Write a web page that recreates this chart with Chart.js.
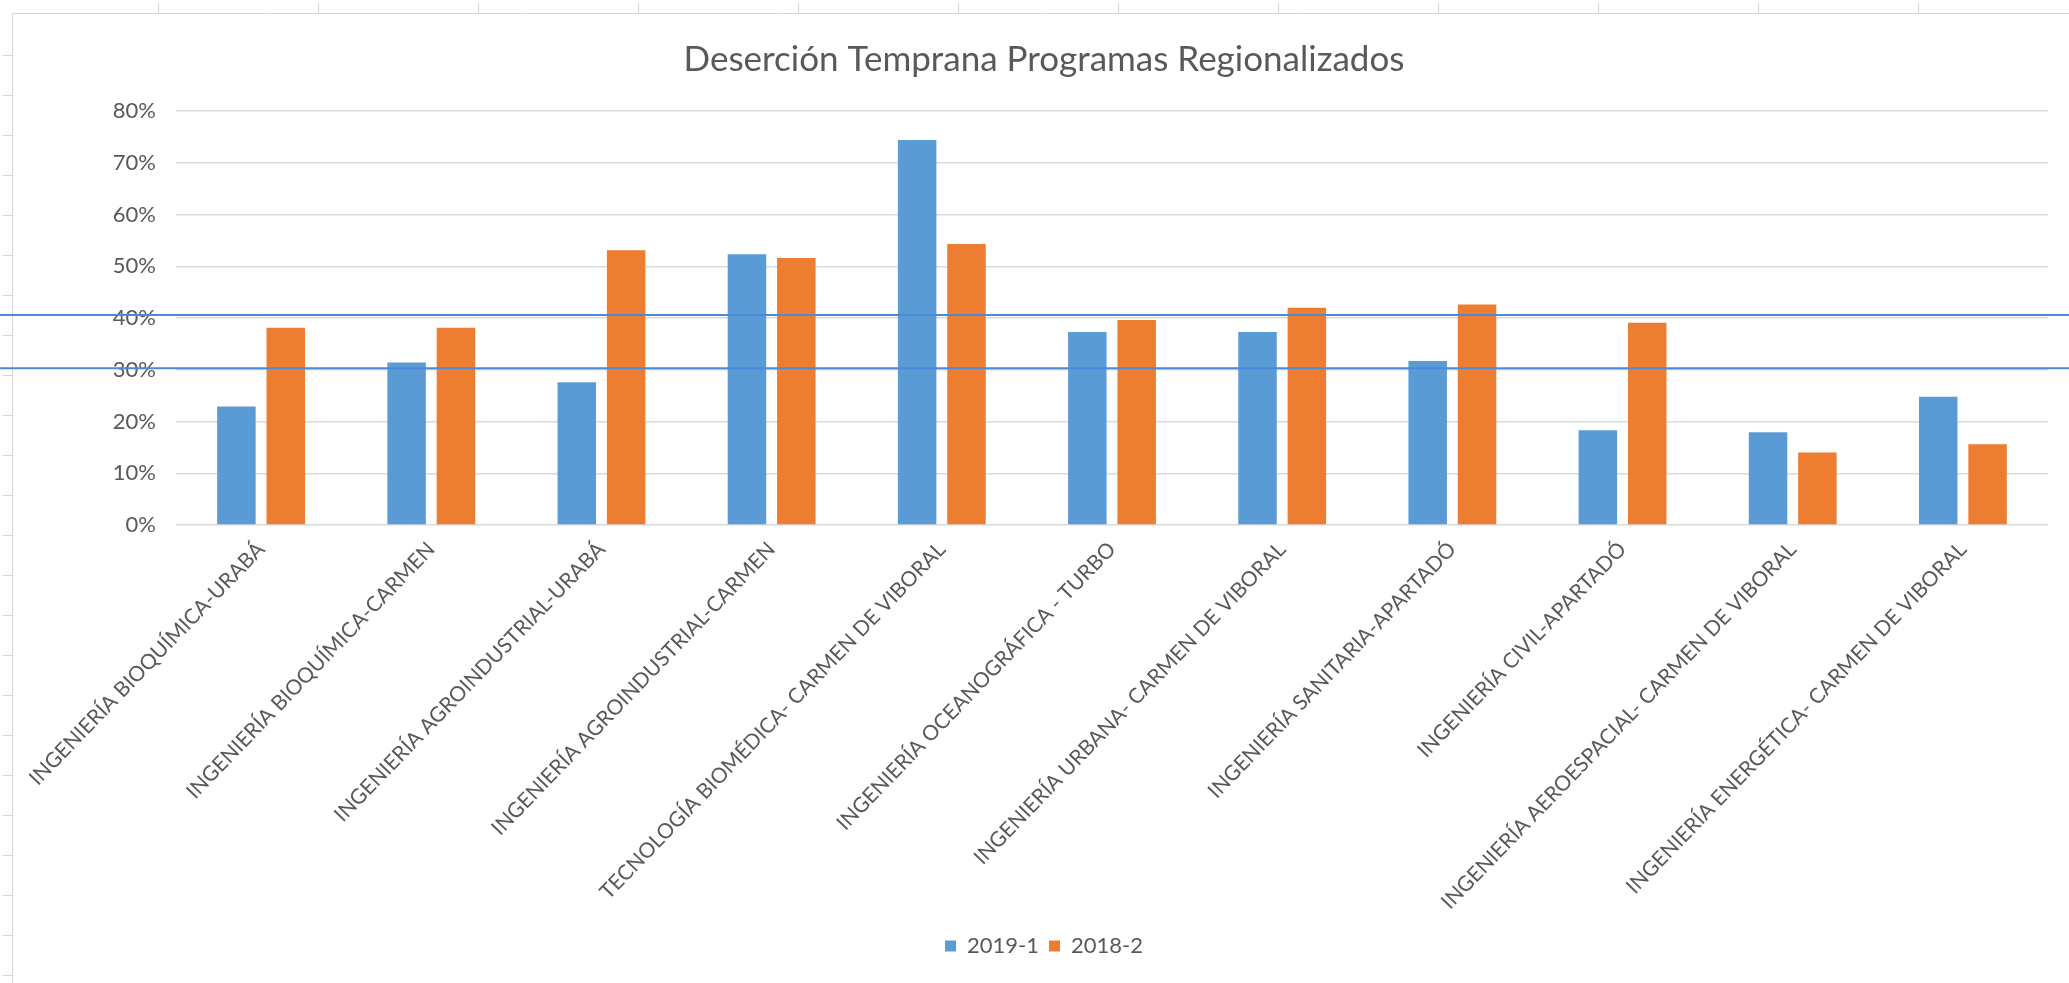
<!DOCTYPE html>
<html>
<head>
<meta charset="utf-8">
<script src="https://cdn.jsdelivr.net/npm/chart.js@4.4.1/dist/chart.umd.min.js"></script>
<style>
html, body { margin: 0; padding: 0; background: #fff; }
#chart { display: block; }
</style>
</head>
<body>
<canvas id="chart" width="2069" height="983"></canvas>
<script>
var programas = [
    "INGENIERÍA BIOQUÍMICA-URABÁ",
    "INGENIERÍA BIOQUÍMICA-CARMEN",
    "INGENIERÍA AGROINDUSTRIAL-URABÁ",
    "INGENIERÍA AGROINDUSTRIAL-CARMEN",
    "TECNOLOGÍA BIOMÉDICA- CARMEN DE VIBORAL",
    "INGENIERÍA OCEANOGRÁFICA - TURBO",
    "INGENIERÍA URBANA- CARMEN DE VIBORAL",
    "INGENIERÍA SANITARIA-APARTADÓ",
    "INGENIERÍA CIVIL-APARTADÓ",
    "INGENIERÍA AEROESPACIAL- CARMEN DE VIBORAL",
    "INGENIERÍA ENERGÉTICA- CARMEN DE VIBORAL"
];
var serie2019_1 = [22.9, 31.4, 27.6, 52.3, 74.4, 37.3, 37.3, 31.7, 18.3, 17.9, 24.8];
var serie2018_2 = [38.1, 38.1, 53.1, 51.6, 54.3, 39.6, 42.0, 42.6, 39.1, 14.0, 15.6];
var nombresSeries = ["2019-1", "2018-2"];
var ejeYMax = 80;
var ejeYPaso = 10;
// the two blue lines drawn over the whole picture (in %)
var lineasMarca = [40.6, 30.3];

var textColor = "#595959";
var gridColor = "#d9d9d9";

// light sheet frame around the picture (row/column ruler)
var marcoHoja = {
    id: "marcoHoja",
    beforeDraw: function (chart) {
        var ctx = chart.ctx;
        ctx.save();
        ctx.fillStyle = "#fff";
        ctx.fillRect(0, 0, chart.width, chart.height);
        ctx.strokeStyle = "#d4d4d4";
        ctx.lineWidth = 1;
        ctx.beginPath();
        ctx.moveTo(12.5, 13.5);
        ctx.lineTo(chart.width, 13.5);
        ctx.moveTo(12.5, 13.5);
        ctx.lineTo(12.5, chart.height);
        for (var x = 158; x < chart.width; x += 160) {
            ctx.moveTo(x + 0.5, 3);
            ctx.lineTo(x + 0.5, 13);
        }
        for (var y = 55; y < chart.height; y += 40) {
            ctx.moveTo(3, y + 0.5);
            ctx.lineTo(12, y + 0.5);
        }
        ctx.stroke();
        ctx.restore();
    }
};

var lineasAzules = {
    id: "lineasAzules",
    afterDraw: function (chart) {
        var ctx = chart.ctx;
        var yScale = chart.scales.y;
        ctx.save();
        ctx.strokeStyle = "#4a8ad8";
        ctx.lineWidth = 2;
        for (var i = 0; i < lineasMarca.length; i++) {
            var py = yScale.getPixelForValue(lineasMarca[i]);
            ctx.beginPath();
            ctx.moveTo(0, py);
            ctx.lineTo(chart.width, py);
            ctx.stroke();
        }
        ctx.restore();
    }
};

Chart.defaults.font.family = "Lato, 'Open Sans', sans-serif";
Chart.defaults.color = textColor;

new Chart("chart", {
    type: "bar",
    data: {
        labels: programas,
        datasets: [
            {
                label: nombresSeries[0],
                data: serie2019_1,
                backgroundColor: "#5b9bd5",
                borderWidth: 0,
                categoryPercentage: 0.58,
                barPercentage: 0.78
            },
            {
                label: nombresSeries[1],
                data: serie2018_2,
                backgroundColor: "#ed7d31",
                borderWidth: 0,
                categoryPercentage: 0.58,
                barPercentage: 0.78
            }
        ]
    },
    options: {
        responsive: false,
        animation: false,
        devicePixelRatio: 1,
        layout: {
            padding: { left: 40, right: 21, top: 0, bottom: 16 }
        },
        plugins: {
            title: {
                display: true,
                text: "Deserción Temprana Programas Regionalizados",
                color: textColor,
                font: { size: 35, weight: "normal" },
                padding: { top: 39, bottom: 30 }
            },
            legend: {
                position: "bottom",
                labels: {
                    boxWidth: 11,
                    boxHeight: 11,
                    padding: 10,
                    color: textColor,
                    font: { size: 22 }
                }
            },
            tooltip: { enabled: false }
        },
        scales: {
            x: {
                grid: { display: false },
                border: { display: false },
                ticks: {
                    autoSkip: false,
                    minRotation: 46,
                    maxRotation: 46,
                    padding: 4,
                    color: textColor,
                    font: { size: 21 }
                },
                afterFit: function (axis) {
                    var leg = axis.chart.legend;
                    axis.height = axis.chart.height - 525 - leg.height - 16;
                }
            },
            y: {
                min: 0,
                max: ejeYMax,
                grid: { color: gridColor, drawTicks: false, lineWidth: 1.5 },
                border: { display: false },
                ticks: {
                    stepSize: ejeYPaso,
                    padding: 20,
                    color: textColor,
                    font: { size: 22 },
                    callback: function (v) { return v + "%"; }
                },
                afterFit: function (axis) {
                    axis.width = 136;
                }
            }
        }
    },
    plugins: [marcoHoja, lineasAzules]
});
</script>
</body>
</html>
